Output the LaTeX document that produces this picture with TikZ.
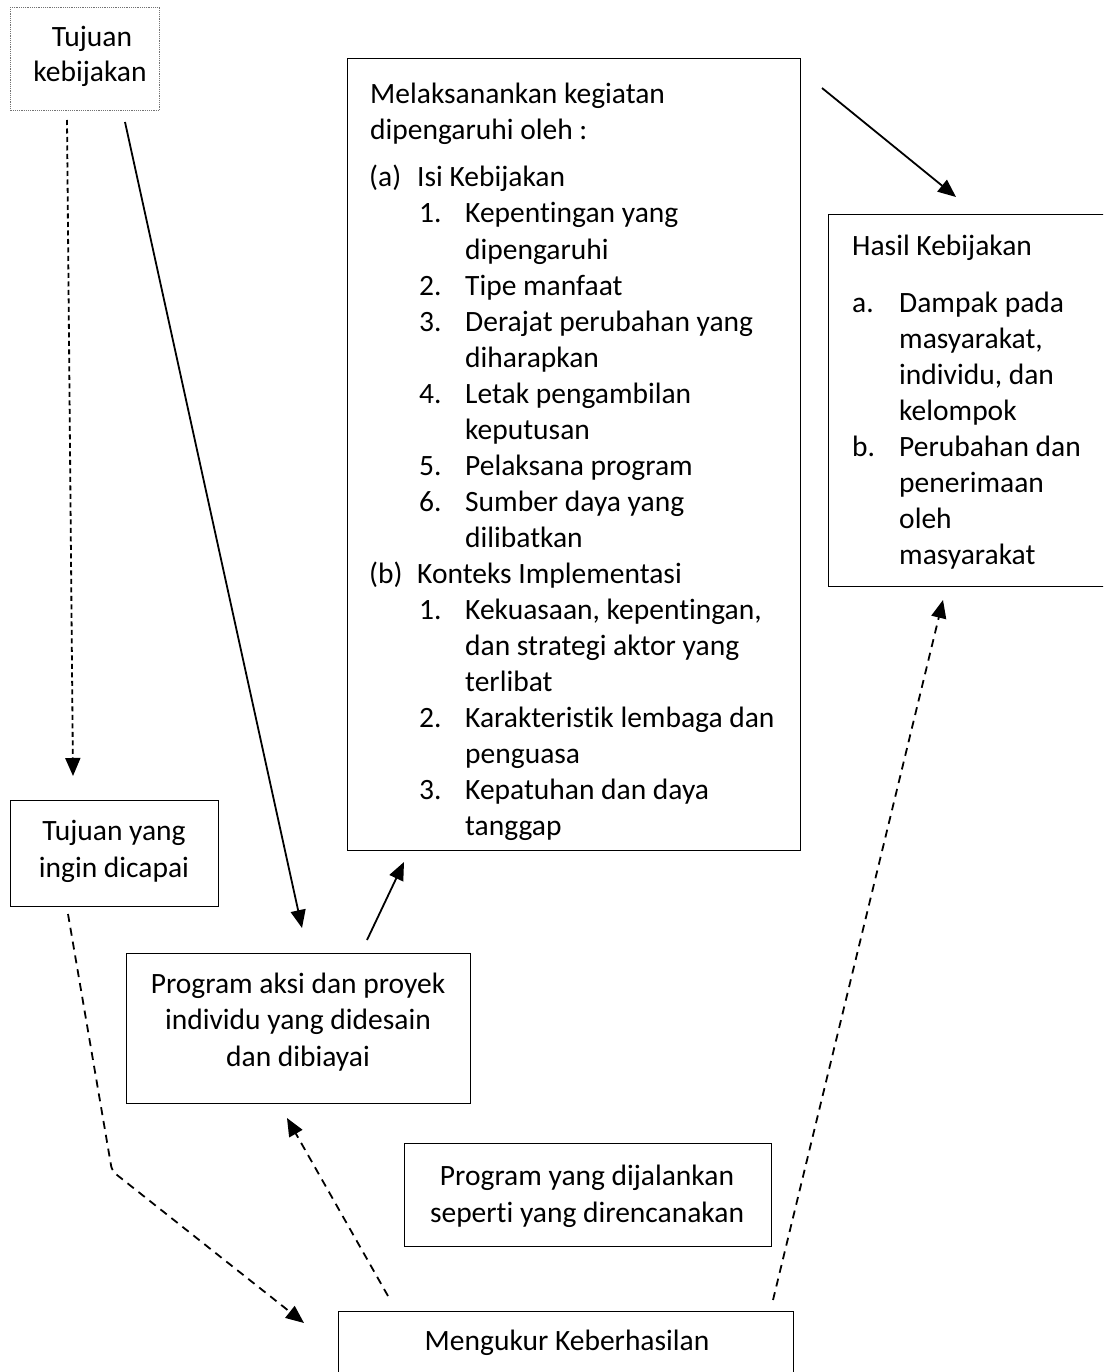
\documentclass[tikz,border=0pt]{standalone}
\usepackage{fontspec}
\setmainfont{Carlito}[Ligatures=NoCommon]
\usetikzlibrary{arrows.meta}
\tikzset{
  box/.style={draw, line width=1.3pt, inner sep=0pt, anchor=north west},
  dotbox/.style={draw=black!55, line width=0.9pt, dash pattern=on 1.2pt off 1pt, inner sep=0pt, anchor=north west},
  txt/.style={inner sep=0pt, anchor=base west},
  ctxt/.style={inner sep=0pt, anchor=base},
  conn/.style={line width=1.8pt, -{Triangle[length=18pt,width=15pt]}},
  dconn/.style={conn, dash pattern=on 8pt off 6pt},
  fconn/.style={conn, dash pattern=on 5pt off 3.5pt},
}
\newcommand\tline[4]{\node[txt] (#1) at (#2,#3) {#4};}
\newcommand\ctline[4]{\node[ctxt] (#1) at (#2,#3) {#4};}
\begin{document}
\begin{tikzpicture}[x=1pt,y=-1pt,font=\fontsize{29.5}{36}\selectfont]
\useasboundingbox (0,0) rectangle (1103,1372);
\clip (0,0) rectangle (1103,1372);
% boxes
\node[dotbox, minimum width=149pt, minimum height=103pt] (tk) at (10,7) {};
\node[box, minimum width=208pt, minimum height=106pt] (ty) at (10,800) {};
\node[box, minimum width=453pt, minimum height=792pt] (mk) at (347,58) {};
\node[box, minimum width=290pt, minimum height=372pt] (hk) at (828,214) {};
\node[box, minimum width=344pt, minimum height=150pt] (pa) at (126,953) {};
\node[box, minimum width=367pt, minimum height=103pt] (pd) at (404,1143) {};
\node[box, minimum width=455pt, minimum height=120pt] (mb) at (338,1311) {};
% centered texts
\ctline{tk1}{92}{47}{Tujuan}
\ctline{tk2}{90}{82}{kebijakan}
\ctline{ty1}{114}{840}{Tujuan yang}
\ctline{ty2}{114}{877}{ingin dicapai}
\ctline{pa1}{298}{993}{Program aksi dan proyek}
\ctline{pa2}{298}{1029}{individu yang didesain}
\ctline{pa3}{298}{1066}{dan dibiayai}
\ctline{pd1}{587}{1185}{Program yang dijalankan}
\ctline{pd2}{587}{1222}{seperti yang direncanakan}
\ctline{mb1}{567}{1350}{Mengukur Keberhasilan}
% Melaksanakan box text
\tline{m1}{370}{104}{Melaksanankan kegiatan}
\tline{m2}{370}{140}{dipengaruhi oleh :}
\tline{ma}{369}{187}{(a)}\tline{ma1}{417}{187}{Isi Kebijakan}
\tline{n1}{419}{223}{1.}\tline{a1}{465}{223}{Kepentingan yang}
\tline{a1b}{465}{259}{dipengaruhi}
\tline{n2}{419}{295}{2.}\tline{a2}{465}{295}{Tipe manfaat}
\tline{n3}{419}{331}{3.}\tline{a3}{465}{331}{Derajat perubahan yang}
\tline{a3b}{465}{367}{diharapkan}
\tline{n4}{419}{403}{4.}\tline{a4}{465}{403}{Letak pengambilan}
\tline{a4b}{465}{439}{keputusan}
\tline{n5}{419}{475}{5.}\tline{a5}{465}{475}{Pelaksana program}
\tline{n6}{419}{511}{6.}\tline{a6}{465}{511}{Sumber daya yang}
\tline{a6b}{465}{547}{dilibatkan}
\tline{mb0}{369}{583}{(b)}\tline{mbt}{417}{583}{Konteks Implementasi}
\tline{k1n}{419}{619}{1.}\tline{k1}{465}{619}{Kekuasaan, kepentingan,}
\tline{k1b}{465}{655}{dan strategi aktor yang}
\tline{k1c}{465}{691}{terlibat}
\tline{k2n}{419}{727}{2.}\tline{k2}{465}{727}{Karakteristik lembaga dan}
\tline{k2b}{465}{763}{penguasa}
\tline{k3n}{419}{799}{3.}\tline{k3}{465}{799}{Kepatuhan dan daya}
\tline{k3b}{465}{835}{tanggap}
% Hasil box text
\tline{h0}{852}{255}{Hasil Kebijakan}
\tline{hn1}{852}{312}{a.}\tline{h1}{899}{312}{Dampak pada}
\tline{h1b}{899}{348}{masyarakat,}
\tline{h1c}{899}{384}{individu, dan}
\tline{h1d}{899}{420}{kelompok}
\tline{hn2}{852}{456}{b.}\tline{h2}{899}{456}{Perubahan dan}
\tline{h2b}{899}{492}{penerimaan}
\tline{h2c}{899}{528}{oleh}
\tline{h2d}{899}{564}{masyarakat}
% connector end points
\coordinate (c1s) at (67,120);  \coordinate (c1e) at (73,776);
\coordinate (c2s) at (125,122); \coordinate (c2e) at (302,928);
\coordinate (c3s) at (367,940); \coordinate (c3e) at (404,862);
\coordinate (c4s) at (822,88);  \coordinate (c4e) at (956,197);
\coordinate (c5s) at (773,1300); \coordinate (c5e) at (943,600);
\coordinate (c6s) at (388,1296); \coordinate (c6e) at (287,1118);
\coordinate (c7s) at (68,914);  \coordinate (c7m) at (112,1171); \coordinate (c7e) at (304,1323);
% connectors
\draw[fconn] (c1s) -- (c1e);
\draw[conn] (c2s) -- (c2e);
\draw[conn] (c3s) -- (c3e);
\draw[conn] (c4s) -- (c4e);
\draw[dconn] (c5s) -- (c5e);
\draw[dconn] (c6s) -- (c6e);
\draw[dconn, rounded corners=5pt] (c7s) -- (c7m) -- (c7e);
\end{tikzpicture}
\end{document}
